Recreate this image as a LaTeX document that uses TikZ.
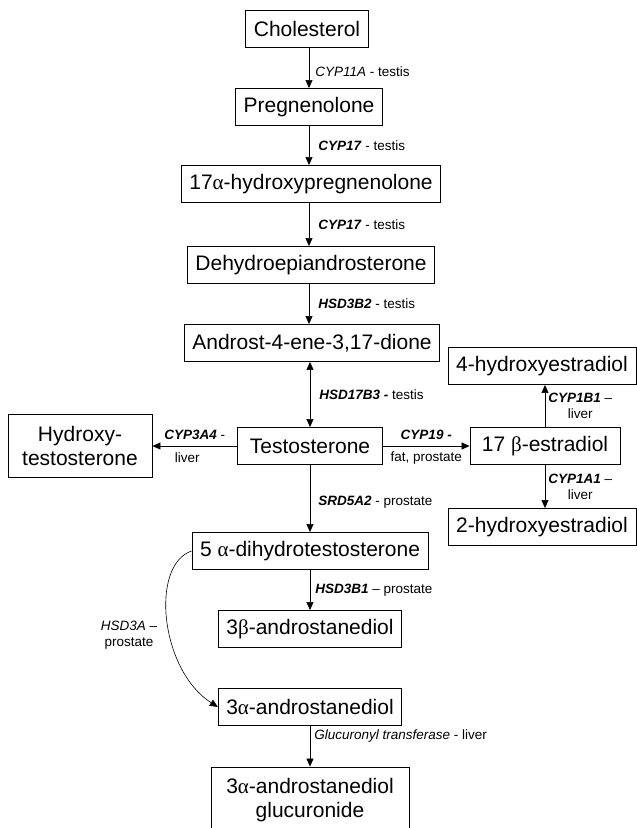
\documentclass[tikz,border=0pt]{standalone}
\usepackage{fontspec}
\setmainfont{Liberation Sans}
\newfontfamily\grk{Liberation Serif}
\usetikzlibrary{arrows.meta}
\newcommand{\gene}[1]{\textbf{\textit{#1}}}
\newcommand{\ga}{{\grk α}}
\newcommand{\gb}{{\grk β}}
\begin{document}
\begin{tikzpicture}[x=1pt,y=-1pt,
  box/.style={draw,line width=0.9pt,inner xsep=8pt,inner ysep=0pt,minimum height=37pt,
    align=center,font=\fontsize{21}{24}\selectfont},
  lab/.style={inner sep=0pt,align=center,font=\fontsize{13.5}{16}\selectfont},
  arr/.style={line width=0.6pt,-{Triangle[length=8pt,width=7pt]}},
  dbl/.style={line width=0.6pt,{Triangle[length=8pt,width=7pt]}-{Triangle[length=8pt,width=7pt]}}]
\useasboundingbox (0,0) rectangle (637,828);

\node[box] (chol)   at (307,29)  {Cholesterol};
\node[box] (preg)   at (309,107) {Pregnenolone};
\node[box] (ohpreg) at (311,184) {17\ga-hydroxypregnenolone};
\node[box] (dhea)   at (311,265) {Dehydroepiandrosterone};
\node[box] (adione) at (312,343) {Androst-4-ene-3,17-dione};
\node[box,minimum width=145pt] (testo) at (310,446) {Testosterone};
\node[box,minimum height=63pt,minimum width=144pt] (ohtesto) at (80,446) {Hydroxy-\\testosterone};
\node[box,minimum width=150pt] (estr) at (545,446) {17 \gb-estradiol};
\node[box,minimum width=188pt] (ohestrA) at (542,366) {4-hydroxyestradiol};
\node[box,minimum width=188pt] (ohestrB) at (542,527) {2-hydroxyestradiol};
\node[box] (dht)    at (310,551) {5 \ga-dihydrotestosterone};
\node[box] (bdiol)  at (310,629) {3\gb-androstanediol};
\node[box] (adiol)  at (310,707) {3\ga-androstanediol};
\node[box,minimum height=66pt,minimum width=198pt] (gluc) at (310,800) {3\ga-androstanediol\\glucuronide};

\draw[arr] (chol.south -| preg) -- node[lab,pos=0.6,anchor=west,xshift=6pt] {\textit{CYP11A} - testis} (preg);
\draw[arr] (preg) -- node[lab,anchor=west,xshift=9pt] {\gene{CYP17} - testis} (preg |- ohpreg.north);
\draw[arr] (ohpreg.south -| preg) -- node[lab,anchor=west,xshift=9pt] {\gene{CYP17} - testis} (preg |- dhea.north);
\draw[arr] (dhea.south -| preg) -- node[lab,anchor=west,xshift=9pt] {\gene{HSD3B2} - testis} (preg |- adione.north);
\draw[dbl] (adione.south -| testo) -- node[lab,anchor=west,xshift=9pt] {\gene{HSD17B3 -} testis} (testo);
\draw[arr] (testo) -- node[lab,pos=0.55,anchor=west,xshift=8pt] {\gene{SRD5A2} - prostate} (dht);
\draw[arr] (dht) -- node[lab,anchor=west,xshift=5pt] {\gene{HSD3B1} -- prostate} (bdiol);
\draw[arr] (adiol) -- node[lab,pos=0.25,anchor=west,xshift=4pt] {\textit{Glucuronyl transferase} - liver} (gluc);

\draw[arr] (testo) -- node[lab,above=6pt] {\gene{CYP3A4} -}
  node[lab,pos=0.59,below=6pt] {liver} (ohtesto);
\draw[arr] (testo) -- node[lab,above=6pt] {\gene{CYP19 -}}
  node[lab,below=5pt] {fat, prostate} (estr);
\draw[arr] (estr.north) -- node[lab,anchor=west,xshift=3pt] {\gene{CYP1B1} --\\liver}
  (estr.north |- ohestrA.south);
\draw[arr] (estr.south) -- node[lab,anchor=west,xshift=3pt] {\gene{CYP1A1} --\\liver}
  (estr.south |- ohestrB.north);

\draw[arr] (dht.west) .. controls (150,565) and (160,670) .. (adiol.west);
\node[lab] (hsdlab) at (129,635) {\textit{HSD3A} --\\prostate};

\end{tikzpicture}
\end{document}
